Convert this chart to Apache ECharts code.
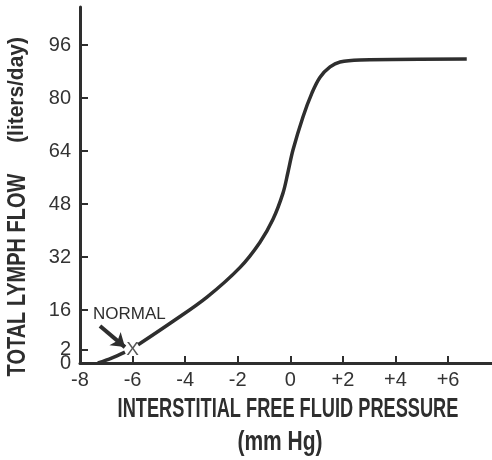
<!DOCTYPE html>
<html>
<head>
<meta charset="utf-8">
<script src="https://cdn.jsdelivr.net/npm/echarts@6/dist/echarts.min.js"></script>
<style>
  html, body { margin: 0; padding: 0; background: #ffffff; }
  #chart { width: 492px; height: 460px; }
</style>
</head>
<body>
<div id="chart"></div>
<script>
// 曲线数据（压力 mmHg, 淋巴流量）
const lowerSegment = [[-7.32, 0], [-6.8, 1.5], [-6.29, 3.3]];
const upperSegment = [
  [-5.79, 5.5], [-4.46, 12.6], [-3.17, 19.9], [-1.92, 28.8], [-1.16, 36.4],
  [-0.66, 43.4], [-0.28, 51.3], [-0.09, 57.6], [0.1, 64.3], [0.48, 74.3],
  [0.82, 81.5], [1.13, 86.3], [1.51, 89.4], [1.89, 90.9], [2.65, 91.5],
  [6.71, 91.8]
];
const normalPoint = [[-6, 4]];
const arrowFrom = [-7.24, 11.2];
const arrowTo = [-6.29, 4.8];

const xTickValues = [-8, -6, -4, -2, 0, 2, 4, 6];
const xTickLabels = ["-8", "-6", "-4", "-2", "0", "+2", "+4", "+6"];
const yTickValues = [0, 16, 32, 48, 64, 80, 96];
const yTickLabels = ["0", "16", "32", "48", "64", "80", "96"];
// "2" 刻度（正常值位置）
const yNormalTick = [4];
const yNormalLabel = ["2"];

const ink = "#2e2e2e";

const chart = echarts.init(document.getElementById("chart"));

const yLabelStyle = {
  showMinLabel: true,
  hideOverlap: false,
  margin: 9,
  color: "#333",
  fontSize: 20,
  fontFamily: "Liberation Sans"
};

const option = {
  backgroundColor: "#ffffff",
  animation: false,
  grid: { left: 80, right: 0, top: 7, bottom: 97 },
  xAxis: {
    type: "value",
    min: -8,
    max: 7.67,
    splitLine: { show: false },
    axisLine: { onZero: false, lineStyle: { color: ink, width: 3 } },
    axisTick: {
      inside: true, length: 7,
      customValues: xTickValues,
      lineStyle: { color: ink, width: 2 }
    },
    axisLabel: {
      customValues: xTickValues,
      showMinLabel: true,
      hideOverlap: false,
      margin: 7,
      color: "#333",
      fontSize: 20,
      fontFamily: "Liberation Sans",
      formatter: (v) => xTickLabels[xTickValues.indexOf(v)]
    }
  },
  yAxis: [
    {
      type: "value",
      min: 0,
      max: 107.5,
      position: "left",
      splitLine: { show: false },
      axisLine: { onZero: false, lineStyle: { color: ink, width: 3 } },
      axisTick: {
        inside: true, length: 8,
        customValues: yTickValues,
        lineStyle: { color: ink, width: 2 }
      },
      axisLabel: Object.assign({}, yLabelStyle, {
        customValues: yTickValues,
        formatter: (v) => yTickLabels[yTickValues.indexOf(v)]
      })
    },
    {
      type: "value",
      min: 0,
      max: 107.5,
      position: "left",
      offset: 0,
      splitLine: { show: false },
      axisLine: { show: false, onZero: false },
      axisTick: {
        inside: true, length: 8,
        customValues: yNormalTick,
        lineStyle: { color: ink, width: 2 }
      },
      axisLabel: Object.assign({}, yLabelStyle, {
        customValues: yNormalTick,
        formatter: (v) => yNormalLabel[yNormalTick.indexOf(v)]
      })
    }
  ],
  series: [
    {
      type: "line",
      data: lowerSegment,
      showSymbol: false,
      smooth: 0.3,
      lineStyle: { color: ink, width: 3.5 }
    },
    {
      type: "line",
      data: upperSegment,
      showSymbol: false,
      smooth: 0.35,
      lineStyle: { color: ink, width: 3.5 }
    },
    {
      type: "scatter",
      data: normalPoint,
      symbolSize: 1,
      itemStyle: { color: "transparent" },
      label: {
        show: true,
        position: "inside",
        formatter: "X",
        color: ink,
        fontSize: 19,
        fontFamily: "Liberation Sans"
      },
      markLine: {
        silent: true,
        symbol: ["none", "arrow"],
        symbolSize: 13,
        label: { show: false },
        lineStyle: { color: ink, width: 4, type: "solid" },
        data: [[{ coord: arrowFrom }, { coord: arrowTo }]]
      }
    }
  ],
  graphic: [
    {
      type: "text",
      left: 93,
      top: 306,
      style: {
        text: "NORMAL",
        fill: ink,
        font: "17px 'Liberation Sans'"
      }
    },
    {
      type: "text",
      x: 288,
      y: 409,
      scaleX: 0.65,
      style: {
        text: "INTERSTITIAL FREE FLUID PRESSURE",
        fill: ink,
        font: "bold 28px 'Liberation Sans'",
        align: "center",
        verticalAlign: "middle"
      }
    },
    {
      type: "text",
      x: 280,
      y: 442,
      scaleX: 0.75,
      style: {
        text: "(mm Hg)",
        fill: ink,
        font: "bold 28px 'Liberation Sans'",
        align: "center",
        verticalAlign: "middle"
      }
    },
    {
      type: "text",
      x: 18,
      y: 275,
      rotation: Math.PI / 2,
      scaleX: 0.8,
      style: {
        text: "TOTAL LYMPH FLOW",
        fill: ink,
        font: "bold 25px 'Liberation Sans'",
        align: "center",
        verticalAlign: "middle"
      }
    },
    {
      type: "text",
      x: 17,
      y: 90,
      rotation: Math.PI / 2,
      scaleX: 0.95,
      style: {
        text: "(liters/day)",
        fill: ink,
        font: "bold 22px 'Liberation Sans'",
        align: "center",
        verticalAlign: "middle"
      }
    }
  ]
};

chart.setOption(option);
</script>
</body>
</html>
